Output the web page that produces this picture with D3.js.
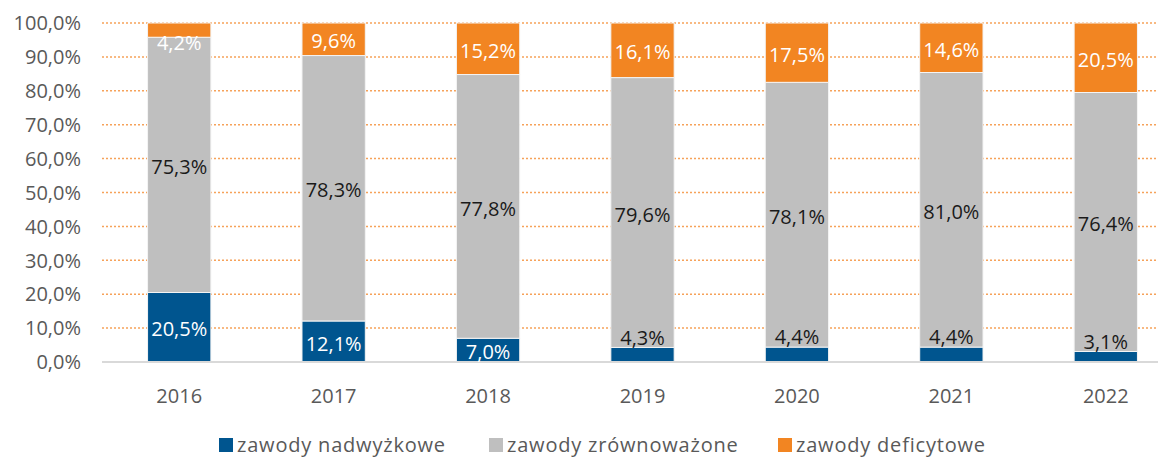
<!DOCTYPE html>
<html>
<head>
<meta charset="utf-8">
<script src="https://cdn.jsdelivr.net/npm/d3@7"></script>
<style>
  body { margin: 0; background: #fff; }
  text { font-family: "Open Sans", sans-serif; }
</style>
</head>
<body>
<div id="chart"></div>
<script>
// dane
var years = ["2016", "2017", "2018", "2019", "2020", "2021", "2022"];
var nadwyzkowe = [20.5, 12.1, 7.0, 4.3, 4.4, 4.4, 3.1];
var zrownowazone = [75.3, 78.3, 77.8, 79.6, 78.1, 81.0, 76.4];
var deficytowe = [4.2, 9.6, 15.2, 16.1, 17.5, 14.6, 20.5];
var seriesNames = ["zawody nadwyżkowe", "zawody zrównoważone", "zawody deficytowe"];
var yTicks = [0, 10, 20, 30, 40, 50, 60, 70, 80, 90, 100];

var colors = ["#00558f", "#bfbfbf", "#f28522"];
var labelColors = ["#ffffff", "#1a1a1a", "#ffffff"];

var width = 1158, height = 458;
var margin = { top: 23, right: -25, bottom: 96, left: 102 };

var svg = d3.select("#chart").append("svg")
    .attr("width", width)
    .attr("height", height);

var x = d3.scaleBand()
    .domain(years)
    .range([margin.left, width - margin.right])
    .paddingInner(0.59)
    .paddingOuter(0.295);

var y = d3.scaleLinear()
    .domain([0, 100])
    .range([height - margin.bottom, margin.top]);

// tabela do stack
var table = years.map(function (d, i) {
    return { year: d, s0: nadwyzkowe[i], s1: zrownowazone[i], s2: deficytowe[i] };
});
var stacked = d3.stack().keys(["s0", "s1", "s2"])(table);

// siatka
svg.append("g")
    .selectAll("line")
    .data(yTicks.filter(function (d) { return d > 0; }))
    .enter()
    .append("line")
    .attr("x1", margin.left)
    .attr("x2", width)
    .attr("y1", function (d) { return y(d); })
    .attr("y2", function (d) { return y(d); })
    .attr("stroke", "#f6a25a")
    .attr("stroke-width", 1.5)
    .attr("stroke-dasharray", "2,2");

// os Y
svg.append("g")
    .selectAll("text")
    .data(yTicks)
    .enter()
    .append("text")
    .attr("x", 81)
    .attr("y", function (d) { return y(d); })
    .attr("dy", "0.36em")
    .attr("text-anchor", "end")
    .attr("fill", "#595959")
    .style("font-size", "20px")
    .text(function (d) { return d.toFixed(1).replace(".", ",") + "%"; });

// slupki
var layers = svg.append("g")
    .selectAll("g")
    .data(stacked)
    .enter()
    .append("g")
    .attr("fill", function (d, i) { return colors[i]; });

layers.selectAll("rect")
    .data(function (d) { return d; })
    .enter()
    .append("rect")
    .attr("x", function (d) { return x(d.data.year); })
    .attr("width", x.bandwidth())
    .attr("y", function (d) { return y(d[1]); })
    .attr("height", function (d) { return y(d[0]) - y(d[1]); })
    .attr("stroke", "#f4f4f4")
    .attr("stroke-width", 1);

// os X
svg.append("line")
    .attr("x1", margin.left)
    .attr("x2", width)
    .attr("y1", y(0))
    .attr("y2", y(0))
    .attr("stroke", "#d9d9d9")
    .attr("stroke-width", 2);

svg.append("g")
    .selectAll("text")
    .data(years)
    .enter()
    .append("text")
    .attr("x", function (d) { return x(d) + x.bandwidth() / 2; })
    .attr("y", y(0) + 41)
    .attr("text-anchor", "middle")
    .attr("fill", "#595959")
    .style("font-size", "20px")
    .text(function (d) { return d; });

// etykiety danych
stacked.forEach(function (layer, k) {
    svg.append("g")
        .selectAll("text")
        .data(layer)
        .enter()
        .append("text")
        .attr("x", function (d) { return x(d.data.year) + x.bandwidth() / 2; })
        .attr("y", function (d) {
            var v = d[1] - d[0];
            if (v < 5 && k == 0) return y(d[1]) - 10; // maly segment - nad
            if (v < 5 && k == 2) return y(d[0]) + 6;  // maly segment - pod
            return (y(d[0]) + y(d[1])) / 2 + 2;
        })
        .attr("dy", "0.36em")
        .attr("text-anchor", "middle")
        .attr("fill", function (d) {
            var v = d[1] - d[0];
            if (v < 5 && k == 0) return labelColors[1];
            return labelColors[k];
        })
        .style("font-size", "20px")
        .text(function (d) { return (d[1] - d[0]).toFixed(1).replace(".", ",") + "%"; });
});

// legenda
var legendX = [219, 489, 778];
var legend = svg.append("g")
    .selectAll("g")
    .data(seriesNames)
    .enter()
    .append("g")
    .attr("transform", function (d, i) { return "translate(" + legendX[i] + "," + 438 + ")"; });

legend.append("rect")
    .attr("width", 14)
    .attr("height", 14)
    .attr("fill", function (d, i) { return colors[i]; });

legend.append("text")
    .attr("x", 18)
    .attr("y", 7)
    .attr("dy", "0.36em")
    .attr("fill", "#595959")
    .style("font-size", "20px")
    .style("letter-spacing", "0.8px")
    .text(function (d) { return d; });
</script>
</body>
</html>
